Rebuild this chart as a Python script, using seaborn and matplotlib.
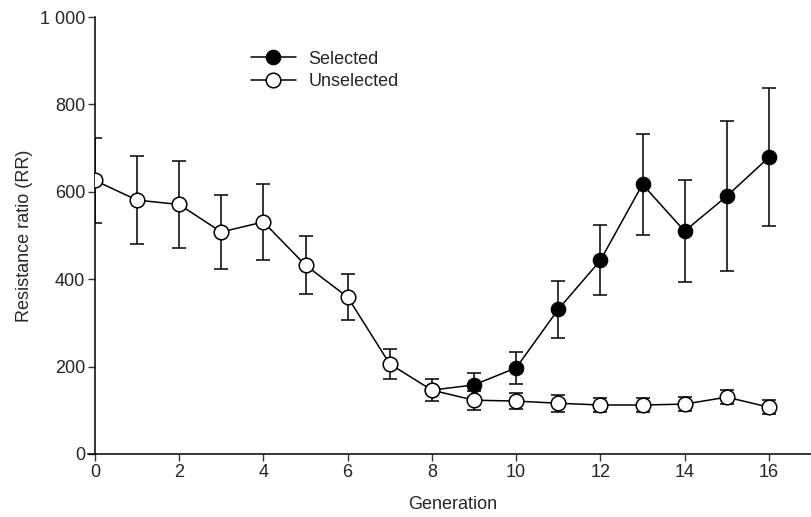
import numpy as np
import pandas as pd
import matplotlib
matplotlib.use('Agg')
import matplotlib.pyplot as plt
import seaborn as sns

# Datos
gen_unsel = list(range(0, 17))
rr_unsel = [626, 581, 571, 508, 531, 432, 359, 206, 146, 123, 121, 116, 112, 112, 114, 130, 107]
err_unsel = [98, 100, 99, 84, 86, 67, 52, 35, 25, 22, 19, 20, 16, 16, 16, 16, 16]

gen_sel = list(range(8, 17))
rr_sel = [146, 158, 197, 331, 443, 617, 510, 590, 679]
err_sel = [0, 27, 36, 65, 80, 116, 117, 172, 158]

y_ticks = [0, 200, 400, 600, 800, 1000]
y_labels = ['0', '200', '400', '600', '800', '1 000']
x_ticks = list(range(0, 17, 2))

sns.set_style('ticks')
plt.rcParams['font.family'] = ['Liberation Sans', 'DejaVu Sans']
fs = 13

fig = plt.figure(figsize=(8.11, 5.17), dpi=100)
ax = fig.add_axes([0.117, 0.122, 0.883, 0.845])

df_sel = pd.DataFrame({'gen': gen_sel, 'rr': rr_sel})
df_unsel = pd.DataFrame({'gen': gen_unsel, 'rr': rr_unsel})

# barras de error
ax.errorbar(gen_sel[1:], rr_sel[1:], yerr=err_sel[1:], fmt='none', ecolor='black',
            elinewidth=1.1, capsize=5, capthick=1.1, zorder=1)
ax.errorbar(gen_unsel, rr_unsel, yerr=err_unsel, fmt='none', ecolor='black',
            elinewidth=1.1, capsize=5, capthick=1.1, zorder=1)

sns.lineplot(data=df_sel, x='gen', y='rr', ax=ax, color='black', lw=1.1,
             marker='o', markersize=10.5, markerfacecolor='black',
             markeredgecolor='black', label='Selected', zorder=3)
sns.lineplot(data=df_unsel, x='gen', y='rr', ax=ax, color='black', lw=1.1,
             marker='o', markersize=10.5, markerfacecolor='white',
             markeredgecolor='black', markeredgewidth=1.1, label='Unselected', zorder=4)

ax.set_xlim(0, 17)
ax.set_ylim(0, 1000)
ax.set_xticks(x_ticks)
ax.set_yticks(y_ticks)
ax.set_yticklabels(y_labels)
ax.tick_params(labelsize=fs, length=5, width=1, color='#333333', pad=2)
ax.set_xlabel('Generation', fontsize=fs, labelpad=11)
ax.set_ylabel('Resistance ratio (RR)', fontsize=fs, labelpad=5)

for s in ['top', 'right']:
    ax.spines[s].set_visible(False)
for s in ['left', 'bottom']:
    ax.spines[s].set_linewidth(1.1)
    ax.spines[s].set_color('black')
ax.spines['bottom'].set_bounds(-0.17, 17)
ax.spines['bottom'].set_clip_on(False)

ax.legend(loc='upper left', bbox_to_anchor=(0.195, 0.96), frameon=False,
          fontsize=fs, handlelength=2.5, handletextpad=0.7, labelspacing=0.3)

fig.savefig('out.png', dpi=100)
